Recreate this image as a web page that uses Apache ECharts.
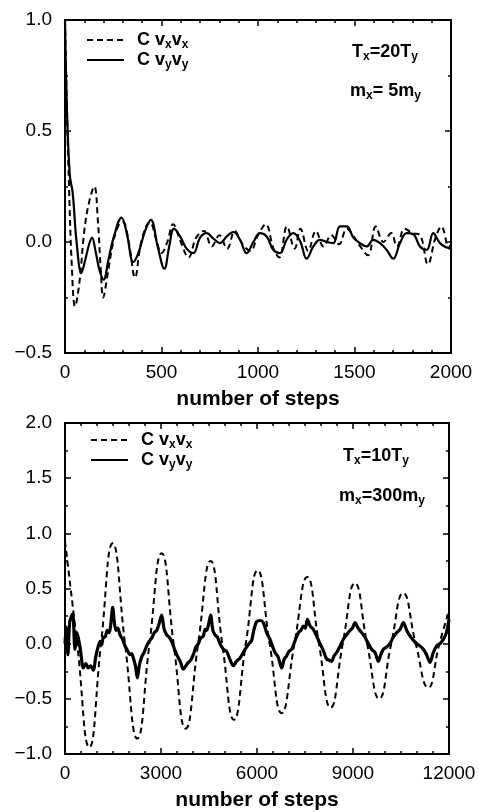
<!DOCTYPE html>
<html><head><meta charset="utf-8">
<script src="https://cdn.jsdelivr.net/npm/echarts@6/dist/echarts.min.js"></script>
<style>html,body{margin:0;padding:0;background:#fff}#c{width:479px;height:812px}</style>
</head><body><div id="c"></div>
<script>
// ---------- Top panel data (Tx=20Ty, mx=5my) ----------
const topXxSteps = [0,10,20,35,52,75,100,125,152,170,185,198,220,250,280,300,330,363,390,420,440,470,500,530,560,600,640,680,720,760,800,840,880,920,960,1000,1040,1080,1110,1150,1190,1220,1260,1300,1340,1380,1420,1460,1500,1530,1570,1610,1650,1690,1720,1760,1800,1840,1880,1920,1950,1990,2000];
const topXxVals  = [1.0,0.6,0.27,-0.1,-0.29,-0.18,0.05,0.18,0.25,0.1,-0.12,-0.25,-0.15,0.0,0.08,0.09,0.0,-0.16,-0.02,0.07,0.09,0.02,-0.05,0.0,0.08,0.0,-0.07,0.02,0.05,-0.02,0.03,-0.03,0.05,-0.01,-0.04,0.03,0.08,-0.03,-0.07,0.07,-0.03,0.06,-0.04,0.05,-0.02,0.03,-0.01,0.06,0.02,-0.02,-0.06,0.07,0.0,0.04,-0.02,0.06,0.04,0.03,-0.1,0.02,0.07,-0.03,0.0];
const topYySteps = [0,10,25,40,60,85,105,125,140,160,180,200,225,255,293,320,354,380,415,445,480,515,540,565,600,630,665,700,734,769,803,838,872,907,941,976,1010,1045,1079,1114,1148,1183,1218,1252,1287,1321,1356,1390,1425,1459,1494,1528,1563,1597,1632,1666,1701,1736,1770,1805,1839,1874,1908,1943,1986,2000];
const topYyVals  = [1.0,0.6,0.3,0.22,0.0,-0.14,-0.08,-0.01,0.02,-0.05,-0.13,-0.17,-0.08,0.03,0.11,0.04,-0.09,-0.05,0.05,0.10,-0.02,-0.12,-0.02,0.06,0.02,-0.03,-0.05,0.02,0.04,0.015,-0.005,0.025,0.045,0.01,-0.05,0.0,0.04,0.025,-0.035,-0.05,0.01,0.04,0.005,-0.075,-0.02,0.01,0.0,-0.005,0.07,0.07,0.02,-0.005,-0.02,0.01,-0.005,-0.035,-0.075,-0.005,0.04,0.035,-0.02,-0.035,0.04,-0.005,-0.025,-0.02];
const topXTicks = {min:0, max:2000, interval:500};
const topYTicks = {min:-0.5, max:1.0, interval:0.5};

// ---------- Bottom panel data (Tx=10Ty, mx=300my) ----------
const botXxSteps = [0,380,760,1125,1490,1875,2260,2640,3020,3395,3770,4160,4550,4915,5280,5650,6020,6395,6770,7170,7570,7935,8300,8680,9060,9440,9820,10195,10570,10960,11350,11700,12000];
const botXxVals  = [0.93,0,-0.94,0,0.91,0,-0.86,0,0.82,0,-0.77,0,0.75,0,-0.69,0,0.665,0,-0.63,0,0.605,0,-0.58,0,0.55,0,-0.50,0,0.46,0,-0.40,0,0.295];
const botYySteps = [0,40,90,150,240,310,370,416,480,573,650,729,800,885,960,1042,1100,1146,1200,1250,1320,1385,1440,1490,1540,1594,1650,1719,1800,1875,1950,2031,2080,2135,2200,2260,2320,2396,2470,2552,2630,2708,2790,2865,2940,3020,3100,3177,3250,3333,3410,3490,3600,3698,3780,3854,3930,4010,4090,4167,4240,4323,4380,4427,4490,4552,4620,4688,4760,4844,4950,5052,5150,5260,5360,5469,5570,5677,5750,5833,5900,5990,6100,6198,6300,6406,6480,6563,6660,6771,6850,6927,7000,7083,7180,7292,7370,7448,7510,7573,7660,7760,7860,7969,8070,8177,8260,8333,8410,8490,8600,8698,8800,8906,8980,9063,9160,9271,9370,9479,9580,9688,9792,9870,9948,10050,10156,10260,10365,10470,10573,10680,10781,10890,10990,11090,11198,11300,11406,11510,11615,11720,11823,11920,12000];
const botYyVals  = [0.0,0.15,-0.1,0.2,0.27,-0.05,0.1,0.05,-0.05,-0.22,-0.18,-0.22,-0.2,-0.24,-0.12,-0.02,0.02,-0.01,0.06,0.06,0.12,0.1,0.2,0.33,0.2,0.12,0.14,0.08,0.04,-0.02,-0.06,-0.1,-0.09,-0.13,-0.2,-0.31,-0.2,-0.12,-0.08,-0.02,0.02,0.05,0.1,0.12,0.18,0.26,0.13,0.08,0.06,0.02,-0.04,-0.1,-0.16,-0.23,-0.2,-0.17,-0.15,-0.1,-0.03,0.0,0.05,0.07,0.13,0.12,0.18,0.26,0.12,0.08,0.06,0.0,-0.05,-0.07,-0.14,-0.2,-0.16,-0.13,-0.08,-0.03,0.0,0.03,0.12,0.2,0.21,0.19,0.1,0.04,-0.02,-0.08,-0.12,-0.22,-0.14,-0.11,-0.07,-0.05,0.02,0.1,0.12,0.16,0.14,0.22,0.16,0.13,0.07,0.0,-0.06,-0.14,-0.15,-0.16,-0.11,-0.08,-0.02,0.04,0.08,0.12,0.14,0.19,0.14,0.1,0.06,0.0,-0.05,-0.08,-0.16,-0.1,-0.05,-0.03,0.0,0.06,0.1,0.13,0.19,0.12,0.07,0.03,0.0,-0.02,-0.05,-0.1,-0.17,-0.08,-0.02,0.0,0.04,0.1,0.22];
const botXTicks = {min:0, max:12000, interval:3000};
const botYTicks = {min:-1.0, max:2.0, interval:0.5};

function pairs(xs, ys){ return xs.map((x,i)=>[x, ys[i]]); }
const FONT = '"Liberation Sans", Arial, sans-serif';
const fmtY = v => (v < 0 ? '\u2212' : '') + Math.abs(v).toFixed(1);
const fmtX = v => String(v);

function xAx(grid, t, primary, minorSplit){
  return {
    type:'value', gridIndex:grid, min:t.min, max:t.max, interval:t.interval,
    position: primary ? 'bottom' : 'top',
    axisLine:{show:true, onZero:false, lineStyle:{color:'#000', width:2}},
    axisTick:{show:true, inside:true, length:6, lineStyle:{color:'#000', width:1.5}},
    minorTick:{show:true, splitNumber:minorSplit, length:3, lineStyle:{color:'#000', width:1.5}},
    splitLine:{show:false},
    axisLabel:{show:primary, color:'#000', fontSize:19, fontFamily:FONT, margin:10, formatter:fmtX},
    name: primary ? 'number of steps' : '',
    nameLocation:'middle', nameGap:36,
    nameTextStyle:{color:'#000', fontSize:21, fontWeight:'bold', fontFamily:FONT}
  };
}
function yAx(grid, t, primary){
  return {
    type:'value', gridIndex:grid, min:t.min, max:t.max, interval:t.interval,
    position: primary ? 'left' : 'right',
    axisLine:{show:true, onZero:false, lineStyle:{color:'#000', width:2}},
    axisTick:{show:true, inside:true, length:6, lineStyle:{color:'#000', width:1.5}},
    minorTick:{show:true, splitNumber:2, length:3, lineStyle:{color:'#000', width:1.5}},
    splitLine:{show:false},
    axisLabel:{show:primary, color:'#000', fontSize:19, fontFamily:FONT, margin:13, formatter:fmtY}
  };
}

const rich = {
  m:{fontSize:18, fontWeight:'bold', fontFamily:FONT, color:'#000', lineHeight:22},
  s:{fontSize:12, fontWeight:'bold', fontFamily:FONT, color:'#000', lineHeight:9, verticalAlign:'bottom'},
  g:{width:8}
};
const legendFmt = name => name === 'Cxx' ? '{g|}{m|C v}{s|x}{m|v}{s|x}' : '{g|}{m|C v}{s|y}{m|v}{s|y}';

function legendAt(left, top, names){
  return {
    left:left, top:top, orient:'vertical', itemWidth:37, itemHeight:14, itemGap:0, padding:0,
    data:names, formatter:legendFmt, textStyle:{rich:rich}, selectedMode:false,
    itemStyle:{opacity:0, borderWidth:0}
  };
}

function note(x, y, txt){
  return {type:'text', left:x, top:y, style:{text:txt, rich:rich}};
}

const chart = echarts.init(document.getElementById('c'));
chart.setOption({
  animation:false,
  backgroundColor:'#fff',
  grid:[
    {left:65, top:20, width:386, height:333},
    {left:65, top:423, width:384, height:332}
  ],
  xAxis:[ xAx(0, topXTicks, true, 5), xAx(0, topXTicks, false, 5), xAx(1, botXTicks, true, 6), xAx(1, botXTicks, false, 6) ],
  yAxis:[ yAx(0, topYTicks, true), yAx(0, topYTicks, false), yAx(1, botYTicks, true), yAx(1, botYTicks, false) ],
  legend:[ legendAt(86, 31, [{name:'Cxx'},{name:'Cyy'}]), legendAt(90, 431, [{name:'Cxx'},{name:'Cyy'}]) ],
  graphic:[
    note(352, 43, '{m|T}{s|x}{m|=20T}{s|y}'),
    note(350, 82, '{m|m}{s|x}{m|= 5m}{s|y}'),
    note(343, 447, '{m|T}{s|x}{m|=10T}{s|y}'),
    note(339, 487, '{m|m}{s|x}{m|=300m}{s|y}')
  ],
  series:[
    {name:'Cxx', type:'line', xAxisIndex:0, yAxisIndex:0, data:pairs(topXxSteps, topXxVals), smooth:0.4, symbol:'none', lineStyle:{color:'#000', width:2, type:[6,4]}, itemStyle:{color:'#000'}, z:3},
    {name:'Cyy', type:'line', xAxisIndex:0, yAxisIndex:0, data:pairs(topYySteps, topYyVals), smooth:0.4, symbol:'none', lineStyle:{color:'#000', width:2.2, type:'solid'}, itemStyle:{color:'#000'}, z:4},
    {name:'Cxx', type:'line', xAxisIndex:2, yAxisIndex:2, data:pairs(botXxSteps, botXxVals), smooth:0.5, symbol:'none', lineStyle:{color:'#000', width:2, type:[6,4]}, itemStyle:{color:'#000'}, z:3},
    {name:'Cyy', type:'line', xAxisIndex:2, yAxisIndex:2, data:pairs(botYySteps, botYyVals), smooth:0.3, symbol:'none', lineStyle:{color:'#000', width:3.2, type:'solid'}, itemStyle:{color:'#000'}, z:4}
  ]
});
</script></body></html>
